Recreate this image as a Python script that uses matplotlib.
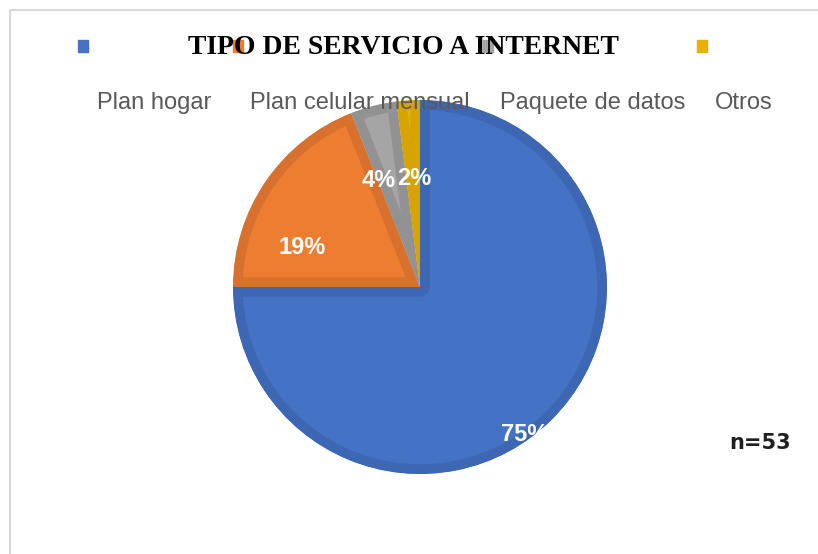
import matplotlib.pyplot as plt
from matplotlib.patches import Rectangle
from matplotlib.lines import Line2D

W, H = 818, 554

categories = ["Plan hogar", "Plan celular mensual", "Paquete de datos", "Otros"]
percentages = [75, 19, 4, 2]
pct_labels = ["75%", "19%", "4%", "2%"]
title = "TIPO DE SERVICIO A INTERNET"
note = "n=53"

fill_colors = ["#4472C4", "#ED7D31", "#A5A5A5", "#E8B000"]
edge_colors = ["#3D67B3", "#D8712D", "#929292", "#D6A300"]


def fx(px):
    return px / W


def fy(py):
    return 1 - py / H


fig = plt.figure(figsize=(W / 100, H / 100), dpi=100)

# light frame (only top and left edges visible in the reference)
fig.add_artist(Line2D([fx(9.5), fx(9.5), fx(W)], [fy(H), fy(10), fy(10)],
                      color="#D9D9D9", lw=1.5, transform=fig.transFigure))

# pie: centre (420, 287) px, radius 187 px
cx, cy, r = 420, 287, 187
ax = fig.add_axes([fx(cx - r), fy(cy + r), 2 * r / W, 2 * r / H])
wedges, _ = ax.pie(percentages, colors=fill_colors, startangle=90,
                   counterclock=False, radius=1.0,
                   wedgeprops=dict(linewidth=14, joinstyle="round"))
for w, ec in zip(wedges, edge_colors):
    w.set_edgecolor(ec)
    w.set_clip_on(True)
    w.set_clip_path(w)  # keep only the inner half of the border
ax.set_xlim(-1, 1)
ax.set_ylim(-1, 1)
ax.axis("off")

# data label positions (x, y in pie units)
label_pos = [(0.56, -0.79), (-0.63, 0.21), (-0.22, 0.57), (-0.03, 0.58)]
for (x, y), t in zip(label_pos, pct_labels):
    ax.text(x, y, t, color="white", fontsize=17, fontweight="bold",
            family="Liberation Sans", ha="center", va="center", clip_on=False)

# legend markers on the title row
marker_x = [78, 233, 483, 697]
for mx, c in zip(marker_x, fill_colors):
    fig.add_artist(Rectangle((fx(mx), fy(52)), 10 / W, 12 / H, color=c,
                             transform=fig.transFigure, zorder=1))

fig.text(fx(403), fy(47), title, family="Liberation Serif", fontweight="bold",
         fontsize=20, ha="center", va="center", zorder=3)

label_x = [97, 250, 500, 715]
for lx, cat in zip(label_x, categories):
    fig.text(fx(lx), fy(103), cat, family="Liberation Sans", fontsize=17,
             color="#595959", ha="left", va="center", zorder=3)

fig.text(fx(760), fy(443), note, family="DejaVu Sans", fontweight="bold",
         fontsize=15, color="#1F1F1F", ha="center", va="center")

fig.savefig("out.png", dpi=100, facecolor="white")
